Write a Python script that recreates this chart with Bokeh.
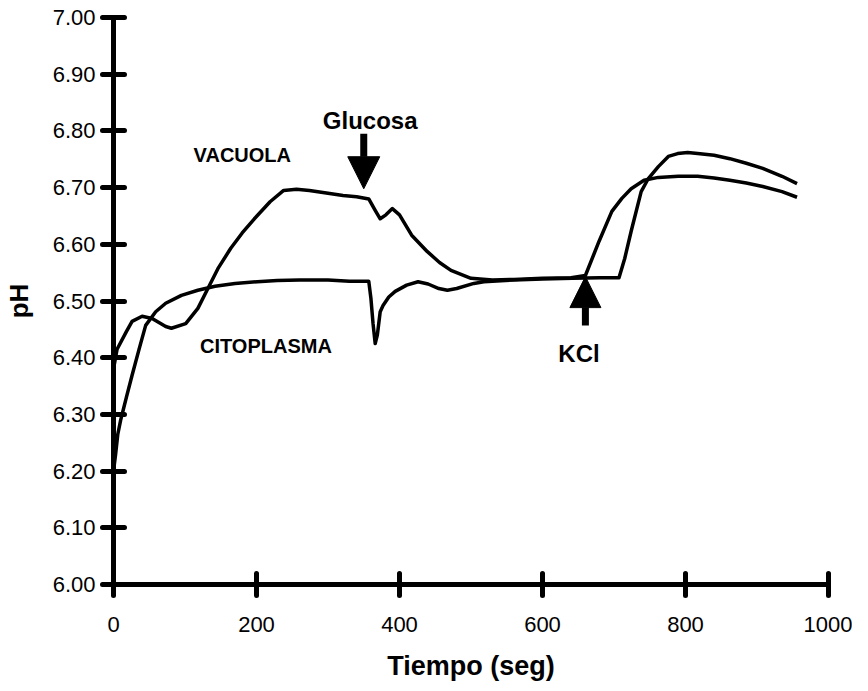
from bokeh.plotting import figure
from bokeh.models import Range1d, FixedTicker, PrintfTickFormatter, Arrow, NormalHead, ColumnDataSource
from bokeh.core.properties import value
from bokeh.embed import file_html
from bokeh.resources import INLINE

# ---- data ----
vac_t = [0, 5, 18, 26, 40, 54, 73, 81, 101, 118, 132, 146, 164, 180, 197, 219, 238, 256, 274, 300,
         321, 340, 357, 366, 373, 381, 390, 400, 417, 439, 456, 472, 500, 530, 560, 600, 640, 660,
         679, 697, 711, 724, 742, 762, 790, 817, 840, 862, 885, 908, 935, 956]
vac_ph = [6.38, 6.415, 6.446, 6.464, 6.473, 6.469, 6.455, 6.452, 6.460, 6.487, 6.522, 6.557, 6.593,
          6.620, 6.645, 6.675, 6.695, 6.697, 6.695, 6.690, 6.686, 6.684, 6.680, 6.660, 6.645, 6.652,
          6.663, 6.652, 6.616, 6.587, 6.568, 6.554, 6.540, 6.537, 6.538, 6.540, 6.541, 6.545, 6.605,
          6.658, 6.681, 6.698, 6.713, 6.718, 6.720, 6.720, 6.717, 6.713, 6.708, 6.702, 6.693, 6.683]

cito_t = [0, 3, 6, 10, 14, 18, 26, 36, 45, 59, 73, 95, 118, 142, 170, 201, 229, 260, 300, 330, 357,
          360, 363, 366, 369, 373, 377, 385, 394, 410, 426, 440, 455, 467, 480, 504, 518, 560, 600,
          642, 680, 707, 715, 724, 738, 748, 762, 776, 789, 803, 817, 840, 862, 885, 908, 935, 956]
cito_ph = [6.20, 6.23, 6.265, 6.29, 6.31, 6.33, 6.369, 6.416, 6.457, 6.481, 6.496, 6.510, 6.519,
           6.526, 6.531, 6.534, 6.536, 6.537, 6.537, 6.535, 6.535, 6.505, 6.46, 6.425, 6.44, 6.481,
           6.492, 6.507, 6.517, 6.528, 6.534, 6.530, 6.522, 6.519, 6.522, 6.531, 6.534, 6.537, 6.539,
           6.540, 6.541, 6.541, 6.575, 6.623, 6.693, 6.716, 6.737, 6.755, 6.760, 6.762, 6.760, 6.757,
           6.751, 6.743, 6.734, 6.720, 6.707]

x_ticks = [0, 200, 400, 600, 800, 1000]
y_ticks = [6.0, 6.1, 6.2, 6.3, 6.4, 6.5, 6.6, 6.7, 6.8, 6.9, 7.0]

# event arrows (time, shaft start pH, tip pH)
glucosa_arrow = (350, 6.795, 6.698)
kcl_arrow = (660, 6.457, 6.543)

# text labels
label_text = ["VACUOLA", "CITOPLASMA"]
label_x = [112, 121]
label_y = [6.757, 6.420]
event_text = ["Glucosa", "KCl"]
event_x = [359, 651]
event_y = [6.818, 6.407]

FONT = "Liberation Sans"

p = figure(width=852, height=684, output_backend="svg", toolbar_location=None,
           x_range=Range1d(0, 1000), y_range=Range1d(6.0, 7.0),
           min_border_left=106, min_border_right=24, min_border_top=17, min_border_bottom=100)
p.outline_line_color = None
p.grid.grid_line_color = None
p.background_fill_color = "white"
p.border_fill_color = "white"

p.line(vac_t, vac_ph, line_color="black", line_width=3.5, line_join="round")
p.line(cito_t, cito_ph, line_color="black", line_width=3.5, line_join="round")

for ax in (p.xaxis[0], p.yaxis[0]):
    ax.axis_line_width = 5
    ax.axis_line_color = "black"
    ax.major_tick_line_width = 5
    ax.major_tick_line_color = "black"
    ax.major_tick_line_cap = "round"
    ax.major_tick_in = 11
    ax.major_tick_out = 11
    ax.minor_tick_line_color = None
    ax.major_label_text_font = FONT
    ax.major_label_text_font_size = "22px"
    ax.major_label_text_color = "black"
    ax.axis_label_text_font = FONT
    ax.axis_label_text_font_style = "bold"
    ax.axis_label_text_color = "black"

p.xaxis.ticker = FixedTicker(ticks=x_ticks)
p.yaxis.ticker = FixedTicker(ticks=y_ticks)
p.yaxis.formatter = PrintfTickFormatter(format="%.2f")
p.xaxis.major_label_standoff = 21
p.yaxis.major_label_standoff = 7
p.xaxis.axis_label = "Tiempo (seg)"
p.yaxis.axis_label = "pH"
p.xaxis.axis_label_text_font_size = "27px"
p.yaxis.axis_label_text_font_size = "26px"
p.xaxis.axis_label_standoff = 16
p.yaxis.axis_label_standoff = 16

# arrows
for (t, y0, y1), size in ((glucosa_arrow, 32), (kcl_arrow, 31)):
    p.add_layout(Arrow(x_start=t, y_start=y0, x_end=t, y_end=y1, line_width=7, line_color="black",
                       end=NormalHead(size=size, fill_color="black", line_color="black", line_width=1)))

src_l = ColumnDataSource(dict(x=label_x, y=label_y, t=label_text))
p.text("x", "y", text="t", source=src_l, text_font=value(FONT), text_font_style="bold",
       text_font_size="20px", text_align="left", text_baseline="alphabetic", text_color="black")
src_e = ColumnDataSource(dict(x=event_x, y=event_y, t=event_text))
p.text("x", "y", text="t", source=src_e, text_font=value(FONT), text_font_style="bold",
       text_font_size="24px", text_align="center", text_baseline="alphabetic", text_color="black")

open("out.html", "w").write(file_html(p, INLINE))
